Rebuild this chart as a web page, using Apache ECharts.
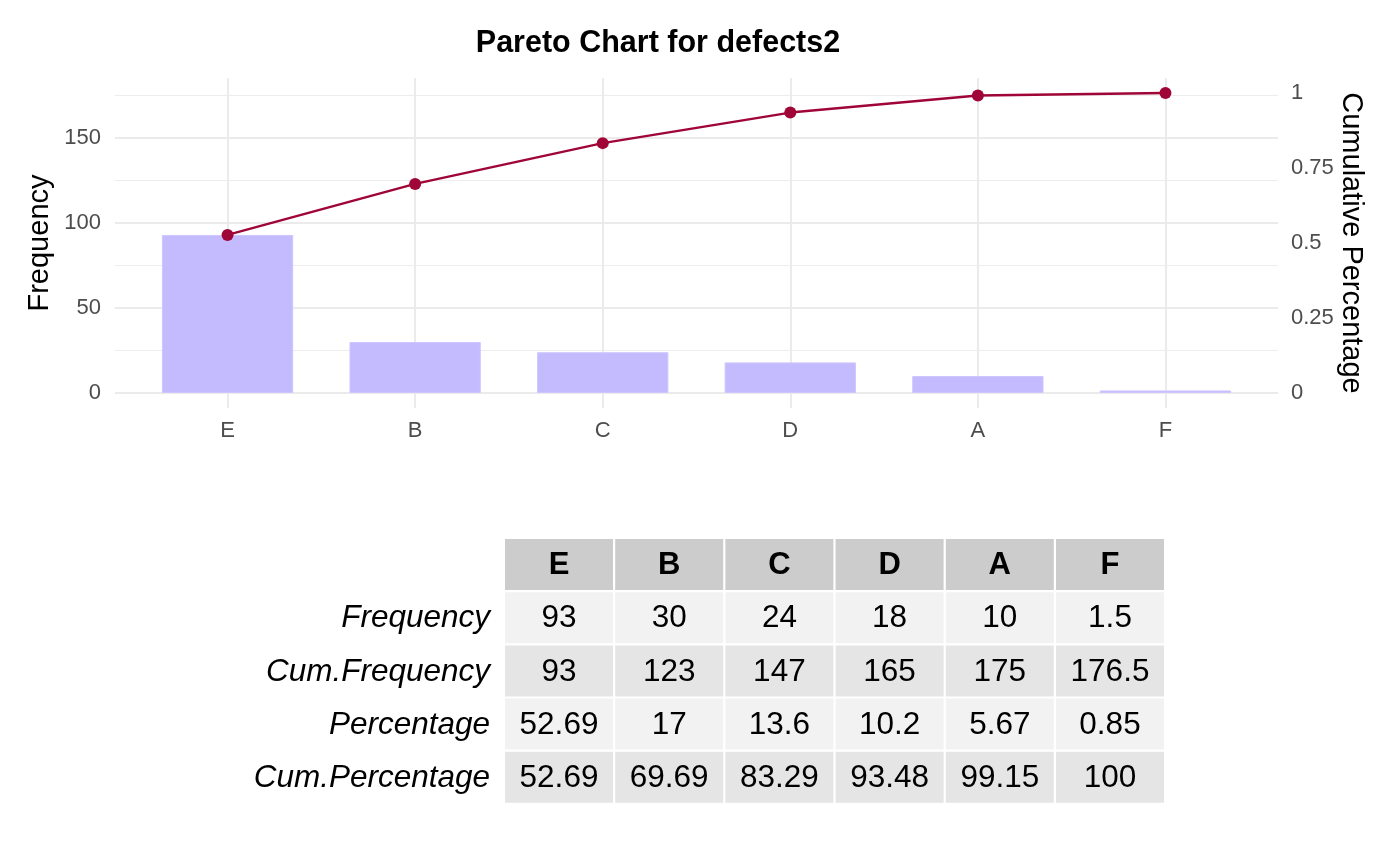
<!DOCTYPE html>
<html>
<head>
<meta charset="utf-8">
<title>Pareto Chart for defects2</title>
<script src="https://cdn.jsdelivr.net/npm/echarts@6/dist/echarts.min.js"></script>
<style>
html, body { margin: 0; padding: 0; background: #fff; }
#main { width: 1400px; height: 866px; }
</style>
</head>
<body>
<div id="main"></div>
<script>
var categories = ['E', 'B', 'C', 'D', 'A', 'F'];
var frequency = [93, 30, 24, 18, 10, 1.5];
var cumFrequency = [93, 123, 147, 165, 175, 176.5];
var percentage = [52.69, 17, 13.6, 10.2, 5.67, 0.85];
var cumPercentage = [52.69, 69.69, 83.29, 93.48, 99.15, 100];
var freqTicks = [0, 50, 100, 150];
var freqMinorTicks = [25, 75, 125, 175];
var cumTicks = [0, 0.25, 0.5, 0.75, 1];
var rowNames = ['Frequency', 'Cum.Frequency', 'Percentage', 'Cum.Percentage'];

var FONT = '"Liberation Sans", Arial, sans-serif';
var total = cumFrequency[cumFrequency.length - 1];
var catIndex = categories.map(function (c, i) { return i; });

// gridlines drawn as mark lines so they sit on the data scales
var gridLines = [];
freqTicks.forEach(function (v) {
    gridLines.push({ yAxis: v, lineStyle: { color: '#EBEBEB', width: 2, type: 'solid' } });
});
freqMinorTicks.forEach(function (v) {
    gridLines.push({ yAxis: v, lineStyle: { color: '#EDEDED', width: 1.2, type: 'solid' } });
});
catIndex.forEach(function (i) {
    gridLines.push({ xAxis: i, lineStyle: { color: '#EBEBEB', width: 2, type: 'solid' } });
});

// summary table under the chart
var tableLeft = 505, tableTop = 539, colPitch = 110.2, rowPitch = 53.2, cellW = 108, cellH = 51;
var tableRows = [frequency, cumFrequency, percentage, cumPercentage];
var rowFills = ['#F2F2F2', '#E5E5E5'];
var graphics = [];

function cellText(x, y, txt, font, align) {
    return {
        type: 'text', x: x, y: y, silent: true,
        style: {
            text: txt, font: font, fill: '#000',
            align: align, verticalAlign: 'middle',
            textAlign: align, textVerticalAlign: 'middle'
        }
    };
}

categories.forEach(function (c, j) {
    var x = tableLeft + j * colPitch;
    graphics.push({ type: 'rect', silent: true, shape: { x: x, y: tableTop, width: cellW, height: cellH }, style: { fill: '#CCCCCC' } });
    graphics.push(cellText(x + cellW / 2, tableTop + cellH / 2 + 1, c, 'bold 31px ' + FONT, 'center'));
});
tableRows.forEach(function (row, r) {
    var y = tableTop + (r + 1) * rowPitch;
    graphics.push(cellText(tableLeft - 15, y + cellH / 2 + 1, rowNames[r], 'italic 31.5px ' + FONT, 'right'));
    row.forEach(function (v, j) {
        var x = tableLeft + j * colPitch;
        graphics.push({ type: 'rect', silent: true, shape: { x: x, y: y, width: cellW, height: cellH }, style: { fill: rowFills[r % 2] } });
        graphics.push(cellText(x + cellW / 2, y + cellH / 2 + 1, String(v), '31.5px ' + FONT, 'center'));
    });
});

var myChart = echarts.init(document.getElementById('main'));

var option = {
    animation: false,
    backgroundColor: '#fff',
    title: {
        text: 'Pareto Chart for defects2',
        left: 658,
        top: 28,
        padding: 0,
        textAlign: 'center',
        textStyle: { fontFamily: FONT, fontSize: 30.5, fontWeight: 'bold', color: '#000' }
    },
    grid: { left: 115, right: 122, top: 78, bottom: 458 },
    xAxis: {
        type: 'value',
        min: -0.6,
        max: categories.length - 0.4,
        axisLine: { show: false },
        axisTick: { show: false },
        splitLine: { show: false },
        axisLabel: {
            customValues: catIndex,
            formatter: function (v) { return categories[Math.round(v)]; },
            color: '#4D4D4D', fontSize: 22, fontFamily: FONT, margin: 12
        }
    },
    yAxis: [
        {
            type: 'value',
            min: -0.05 * total,
            max: 1.05 * total,
            name: 'Frequency',
            nameLocation: 'middle',
            nameRotate: 90,
            nameGap: 61,
            nameMoveOverlap: false,
            nameTextStyle: { fontFamily: FONT, fontSize: 29, color: '#000' },
            axisLine: { show: false },
            axisTick: { show: false },
            splitLine: { show: false },
            axisLabel: {
                customValues: freqTicks,
                color: '#4D4D4D', fontSize: 22, fontFamily: FONT, margin: 14
            }
        },
        {
            type: 'value',
            min: -0.05,
            max: 1.05,
            name: 'Cumulative Percentage',
            nameLocation: 'middle',
            nameRotate: -90,
            nameGap: 58,
            nameMoveOverlap: false,
            nameTextStyle: { fontFamily: FONT, fontSize: 29, color: '#000' },
            axisLine: { show: false },
            axisTick: { show: false },
            splitLine: { show: false },
            axisLabel: {
                customValues: cumTicks,
                color: '#4D4D4D', fontSize: 22, fontFamily: FONT, margin: 13
            }
        }
    ],
    series: [
        {
            name: 'Frequency',
            type: 'bar',
            barWidth: '70%',
            z: 2,
            itemStyle: { color: '#C4BBFF', borderColor: '#CEC6FF', borderWidth: 1 },
            data: catIndex.map(function (i) { return [i, frequency[i]]; }),
            markLine: {
                silent: true,
                z: 1,
                symbol: ['none', 'none'],
                label: { show: false },
                emphasis: { disabled: true },
                animation: false,
                data: gridLines
            }
        },
        {
            name: 'Cumulative Percentage',
            type: 'line',
            yAxisIndex: 1,
            z: 3,
            symbol: 'circle',
            symbolSize: 12,
            lineStyle: { color: '#A00537', width: 2.4 },
            itemStyle: { color: '#A00537' },
            data: catIndex.map(function (i) { return [i, cumPercentage[i] / 100]; })
        }
    ],
    graphic: graphics
};

myChart.setOption(option);
</script>
</body>
</html>
